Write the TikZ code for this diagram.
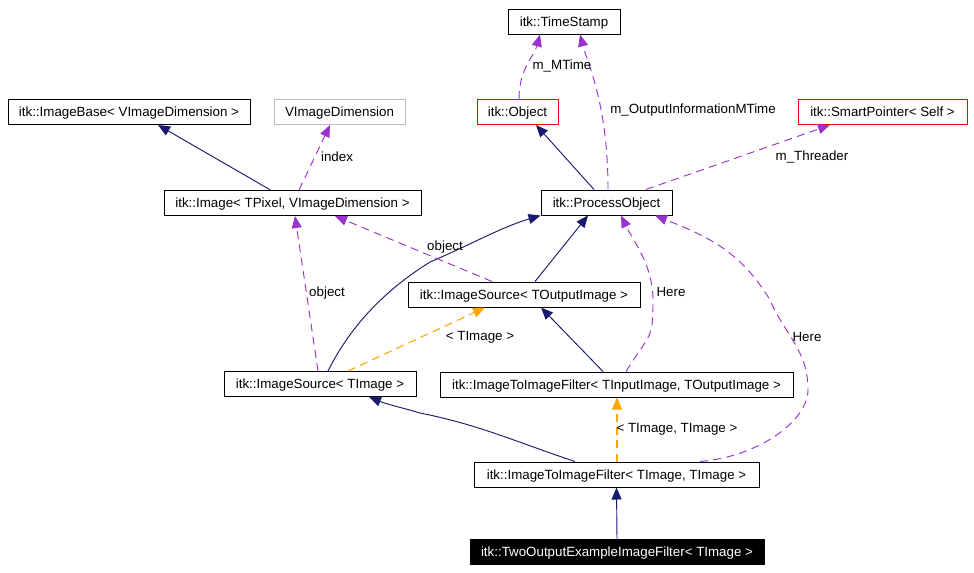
\documentclass[tikz,border=0pt]{standalone}
\usepackage{fontspec}
\setmainfont{Liberation Sans}
\usetikzlibrary{arrows.meta,calc}
\definecolor{navy}{RGB}{25,25,112}
\definecolor{purp}{RGB}{154,50,205}
\definecolor{orng}{RGB}{255,165,0}
\definecolor{grayb}{RGB}{191,191,191}
\begin{document}
\begin{tikzpicture}[x=0.75pt,y=-0.75pt,
  cls/.style={draw=black,line width=0.75pt,fill=white,minimum height=25*0.75pt,inner sep=0pt,text height=8pt,text depth=0.8pt,font=\fontsize{10pt}{12pt}\selectfont},
  redcls/.style={cls,draw=red},
  graycls/.style={cls,draw=grayb},
  blackcls/.style={cls,fill=black,text=white},
  lbl/.style={inner sep=0pt,font=\fontsize{10pt}{12pt}\selectfont},
  inh/.style={draw=navy,line width=0.7pt,-{Triangle[length=9pt,width=7.5pt,fill=navy]}},
  use/.style={draw=purp,line width=0.7pt,dash pattern=on 6pt off 4pt,-{Triangle[length=9pt,width=7.5pt,fill=purp]}},
  tmpl/.style={draw=orng,line width=0.8pt,dash pattern=on 6pt off 4pt,-{Triangle[length=9pt,width=7.5pt,fill=orng]}}]
\useasboundingbox (0,0) rectangle (974,572);
\fill[white] (0,0) rectangle (974,572);
% nodes
\node[cls,minimum width=112*0.75pt] (ts) at (564,21.5) {itk::TimeStamp};
\node[cls,minimum width=242*0.75pt] (ibase) at (129,112) {itk::ImageBase< VImageDimension >};
\node[graycls,minimum width=131*0.75pt] (vdim) at (339.5,112) {VImageDimension};
\node[redcls,minimum width=81*0.75pt] (obj) at (517.5,112) {itk::Object};
\node[redcls,minimum width=169*0.75pt] (sp) at (882.5,112) {itk::SmartPointer< Self >};
\node[cls,minimum width=257*0.75pt] (img) at (292.5,203) {itk::Image< TPixel, VImageDimension >};
\node[cls,minimum width=131*0.75pt] (po) at (606.5,202.5) {itk::ProcessObject};
\node[cls,minimum width=232*0.75pt] (iso) at (524,294.5) {itk::ImageSource< TOutputImage >};
\node[cls,minimum width=192*0.75pt] (ist) at (320,384) {itk::ImageSource< TImage >};
\node[cls,minimum width=353*0.75pt] (itio) at (616.5,384.5) {itk::ImageToImageFilter< TInputImage, TOutputImage >};
\node[cls,minimum width=285*0.75pt] (itt) at (616.5,474.5) {itk::ImageToImageFilter< TImage, TImage >};
\node[blackcls,minimum width=294*0.75pt] (two) at (617,552) {itk::TwoOutputExampleImageFilter< TImage >};
% edges
\draw[inh] ($(img.north)+(-22,0)$) -- ($(ibase.south)+(29,0)$);
\draw[use] ($(img.north)+(6.5,0)$) -- ($(vdim.south)+(-9.5,0)$);
\draw[use] ($(obj.north)+(1.5,0)$) .. controls +(0,-30) and +(-6,22) .. ($(ts.south)+(-24,0)$);
\draw[use] ($(po.north)+(1.5,0)$) .. controls +(0,-85) and +(8,30) .. ($(ts.south)+(16,0)$);
\draw[inh] ($(po.north)+(-12.5,0)$) -- ($(obj.south)+(18.5,0)$);
\draw[use] ($(po.north)+(39.5,0)$) -- ($(sp.south)+(-52.5,0)$);
\draw[inh] ($(iso.north)+(11,0)$) -- ($(po.south)+(-18.5,0)$);
\draw[inh] ($(ist.north)+(8,0)$) .. controls +(25,-50) and +(-40,25) .. (430,262) .. controls +(40,-17) and +(-40,12) .. (po.south west);
\draw[use] ($(iso.north)+(-32,0)$) -- ($(img.south)+(42.5,0)$);
\draw[use] ($(ist.north)+(-2,0)$) -- ($(img.south)+(2.5,0)$);
\draw[tmpl] ($(ist.north)+(28,0)$) -- ($(iso.south)+(-39,0)$);
\draw[inh] ($(itio.north)+(-13.5,0)$) -- ($(iso.south)+(17,0)$);
\draw[use] ($(itio.north)+(9.5,0)$) .. controls +(25,-40) and +(0,40) .. (653,300) .. controls +(0,-35) and +(12,25) .. ($(po.south)+(14.5,0)$);
\draw[use] ($(itt.north)+(83.5,0)$) .. controls +(60,-5) and +(0,30) .. (808,390) .. controls +(0,-40) and +(15,35) .. (770,300) .. controls +(-30,-50) and +(50,20) .. ($(po.south)+(48.5,0)$);
\draw[tmpl] ($(itt.north)+(0.5,0)$) -- ($(itio.south)+(0.5,0)$);
\draw[inh] ($(itt.north)+(-41.5,0)$) .. controls +(-60,-20) and +(60,12) .. (420,413) .. controls +(-20,-6) and +(20,8) .. ($(ist.south)+(49,0)$);
\draw[inh] (two.north) -- (itt.south);
% labels
\node[lbl] (lindex) at (337,157) {index};
\node[lbl] (lmt) at (562,66) {m\_MTime};
\node[lbl] (loim) at (693,110) {m\_OutputInformationMTime};
\node[lbl] (lthr) at (812,157) {m\_Threader};
\node[lbl] (lobj1) at (445,247) {object};
\node[lbl] (lobj2) at (327,293) {object};
\node[lbl] (lti) at (480,337) {< TImage >};
\node[lbl] (lhere1) at (671,292) {Here};
\node[lbl] (lhere2) at (807,337) {Here};
\node[lbl] (ltt) at (677,429) {< TImage, TImage >};
\end{tikzpicture}
\end{document}
